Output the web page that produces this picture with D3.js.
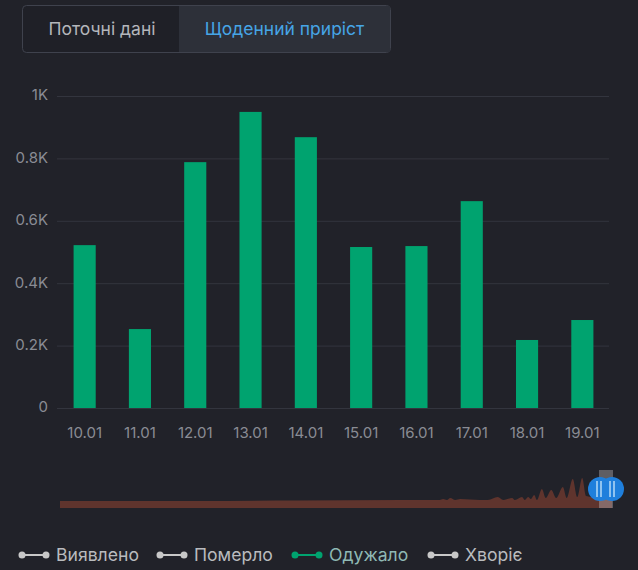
<!DOCTYPE html>
<html>
<head>
<meta charset="utf-8">
<script src="https://cdn.jsdelivr.net/npm/d3@7"></script>
<style>
  html, body { margin: 0; padding: 0; background: #212229; }
  svg { display: block; font-family: Inter, "Noto Sans", sans-serif; }
</style>
</head>
<body>
<svg id="chart" width="638" height="570"></svg>
<script>
// Daily values
let days = ["10.01", "11.01", "12.01", "13.01", "14.01", "15.01", "16.01", "17.01", "18.01", "19.01"];
let recovered = [522, 253, 788, 949, 868, 516, 519, 663, 218, 282];
let yTicks = [0, 200, 400, 600, 800, 1000];
let yTickLabels = ["0", "0.2K", "0.4K", "0.6K", "0.8K", "1K"];

// Overview strip: position along the strip (0-100) and height
let overviewPos = [0, 25, 43, 62, 68.8, 69.4, 70.1, 70.7, 71.6, 72.5, 76.1, 77.5, 79.3, 80.3, 81.9, 82.4, 83.7, 84.2, 84.8, 85.3, 85.9, 86.4, 87.3, 88, 89, 89.9, 91.1, 91.8, 92.9, 93.7, 94.6, 95.3, 97.8, 100];
let overviewVal = [7, 7, 7.5, 8, 8, 9, 8, 10, 8, 9, 8, 8, 11, 8, 10, 8, 11, 8, 11, 9, 13, 8, 19, 10, 18, 10, 21, 10, 29, 11, 30, 12, 10, 10];

let legendNames = ["Виявлено", "Померло", "Одужало", "Хворіє"];
let legendLineColors = ["#c8c8c8", "#c8c8c8", "#00a36f", "#c8c8c8"];
let legendTextColors = ["#b9bbbe", "#b9bbbe", "#8fb9b4", "#b9bbbe"];
let legendX = [18, 156, 291, 427];

let svg = d3.select("#chart");

// Toggle at the top
svg.append("rect").attr("x", 22.5).attr("y", 5.5).attr("width", 368).attr("height", 47).attr("rx", 4)
  .attr("fill", "#1f2027").attr("stroke", "#3f424d");
svg.append("rect").attr("x", 179).attr("y", 6).attr("width", 211).attr("height", 46).attr("fill", "#2d3039");
svg.append("text").attr("x", 102).attr("y", 35).attr("text-anchor", "middle")
  .attr("font-size", 17.5).attr("fill", "#b4b6bb").text("Поточні дані");
svg.append("text").attr("x", 284.5).attr("y", 35).attr("text-anchor", "middle")
  .attr("font-size", 17.5).attr("fill", "#46a5e6").text("Щоденний приріст");

// Bar chart
let x = d3.scaleBand().domain(days).range([57, 610]).paddingInner(0.6).paddingOuter(0.3);
let y = d3.scaleLinear().domain([0, 1000]).range([408, 96]);

let yAxis = d3.axisLeft(y).tickValues(yTicks).tickSize(0).tickPadding(9)
  .tickFormat((d, i) => yTickLabels[i]);
let yG = svg.append("g").attr("transform", "translate(57,0)").call(yAxis);
yG.select(".domain").remove();
yG.selectAll("text").attr("font-size", 15).attr("fill", "#8a8c94").attr("font-family", "Inter")
  .attr("y", -1);
yG.selectAll(".tick").append("line").attr("x2", 552).attr("stroke", "#33353e");

svg.selectAll(".bar").data(recovered).join("rect").attr("class", "bar")
  .attr("x", (d, i) => x(days[i]))
  .attr("y", d => y(d))
  .attr("width", x.bandwidth())
  .attr("height", d => y(0) - y(d))
  .attr("fill", "#00a36f");

let xAxis = d3.axisBottom(x).tickSize(0).tickPadding(19);
let xG = svg.append("g").attr("transform", "translate(0,408)").call(xAxis);
xG.select(".domain").remove();
xG.selectAll("text").attr("font-size", 15).attr("fill", "#8a8c94").attr("font-family", "Inter");

// Overview strip with slider
let ox = d3.scaleLinear().domain([0, 100]).range([60, 612]);
let oy = d3.scaleLinear().domain([0, 30]).range([508, 478]);
let area = d3.area().x((d, i) => ox(overviewPos[i])).y0(oy(0)).y1(d => oy(d)).curve(d3.curveMonotoneX);
svg.append("path").datum(overviewVal).attr("d", area).attr("fill", "#5f342d");

svg.append("rect").attr("x", 599).attr("y", 470).attr("width", 14).attr("height", 38)
  .attr("fill", "#bebabe").attr("opacity", 0.4);
[600, 612].forEach(cx => {
  svg.append("circle").attr("cx", cx).attr("cy", 489).attr("r", 12).attr("fill", "#1f7fdc");
});
[[600, -4], [600, 0], [612, -3], [612, 1]].forEach(([cx, dx]) => {
  svg.append("rect").attr("x", cx + dx).attr("y", 481).attr("width", 2).attr("height", 16)
    .attr("fill", "#8fc3f0");
});

// Legend
let legend = svg.selectAll(".legend").data(legendNames).join("g").attr("class", "legend")
  .attr("transform", (d, i) => `translate(${legendX[i]},555)`);
legend.append("line").attr("x1", 4).attr("x2", 28).attr("y1", 0).attr("y2", 0)
  .attr("stroke-width", 2).attr("stroke", (d, i) => legendLineColors[i]);
legend.selectAll("circle").data((d, i) => [[4, legendLineColors[i]], [28, legendLineColors[i]]]).join("circle")
  .attr("cx", d => d[0]).attr("r", 3.5).attr("fill", d => d[1]);
legend.append("text").attr("x", 38).attr("y", 6).attr("font-size", 17.6)
  .attr("fill", (d, i) => legendTextColors[i]).text(d => d);
</script>
</body>
</html>
